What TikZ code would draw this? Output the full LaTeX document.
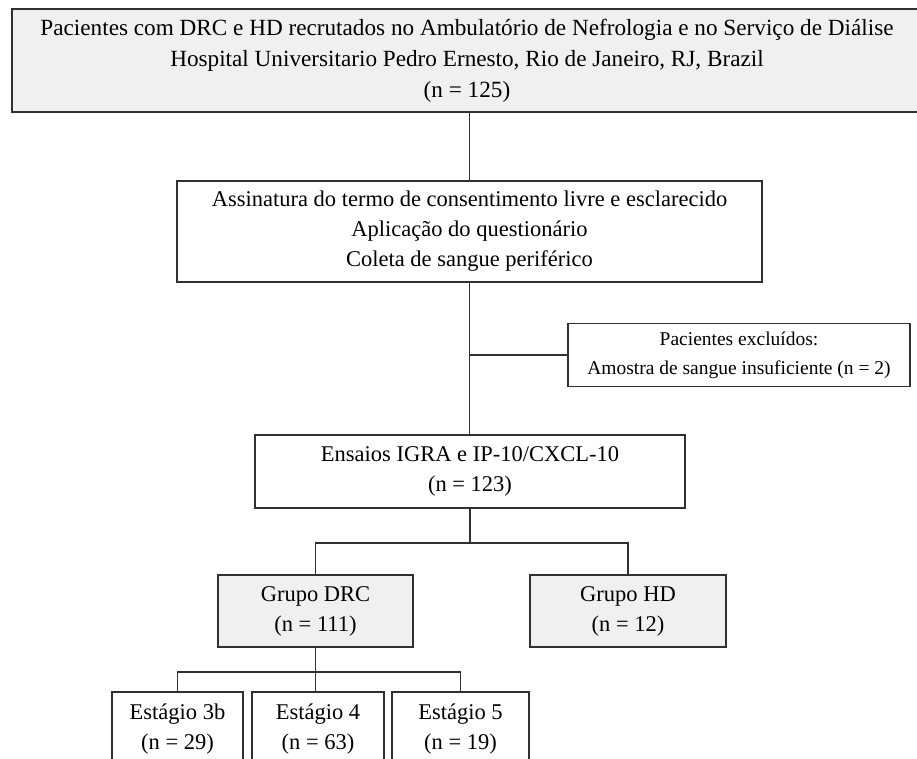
\documentclass[tikz,border=0pt]{standalone}
\usepackage{fontspec}
\setmainfont{Liberation Serif}
\definecolor{boxgray}{HTML}{F0F0F0}
\definecolor{edge}{HTML}{303030}
\tikzset{
  box/.style={draw=edge, line width=1.6pt, inner sep=0pt, align=center,
    font=\fontsize{22.5}{30}\selectfont},
  graybox/.style={box, fill=boxgray},
  link/.style={draw=edge, line width=1.6pt}
}
\begin{document}
\begin{tikzpicture}[x=1pt,y=-1pt]
\clip (0,0) rectangle (917,758);
\fill[white] (0,0) rectangle (917,758);
\node[graybox, minimum width=910pt, minimum height=103pt, font=\fontsize{23.2}{31}\selectfont] (pac) at (467,60.5)
  {Pacientes com DRC e HD recrutados no Ambulatório de Nefrologia e no Serviço de Diálise\\
   Hospital Universitario Pedro Ernesto, Rio de Janeiro, RJ, Brazil\\ (n = 125)};
\node[box, minimum width=585pt, minimum height=101pt] (cons) at (469.5,231.5)
  {Assinatura do termo de consentimento livre e esclarecido\\
   Aplicação do questionário\\ Coleta de sangue periférico};
\node[box, minimum width=342pt, minimum height=63pt, font=\fontsize{19.5}{29}\selectfont] (excl) at (739,355)
  {Pacientes excluídos:\\ Amostra de sangue insuficiente (n = 2)};
\node[box, minimum width=430pt, minimum height=73pt] (ens) at (470,471.5)
  {Ensaios IGRA e IP-10/CXCL-10\\ (n = 123)};
\node[graybox, minimum width=195pt, minimum height=72pt] (drc) at (315.5,611)
  {Grupo DRC\\ (n = 111)};
\node[graybox, minimum width=196pt, minimum height=72pt] (hd) at (628,611)
  {Grupo HD\\ (n = 12)};
\node[box, minimum width=131pt, minimum height=74pt] (e3b) at (177.5,729)
  {Estágio 3b\\ (n = 29)};
\node[box, minimum width=132pt, minimum height=74pt] (e4) at (318,729)
  {Estágio 4\\ (n = 63)};
\node[box, minimum width=137pt, minimum height=74pt] (e5) at (460.5,729)
  {Estágio 5\\ (n = 19)};
\coordinate (j1) at ([yshift=-34pt]ens.south);
\coordinate (j2) at ([yshift=-24pt]drc.south);
\draw[link] (cons.north) -- (cons.north |- pac.south);
\draw[link] (cons.south) -- (cons.south |- ens.north);
\draw[link] (cons.south |- excl.west) -- (excl.west);
\draw[link] (ens.south) -- (j1);
\draw[link] (drc.north) |- (j1) -| (hd.north);
\draw[link] (drc.south) -- (drc.south |- e4.north);
\draw[link] (e3b.north) |- (j2) -| (e5.north);
\end{tikzpicture}
\end{document}
